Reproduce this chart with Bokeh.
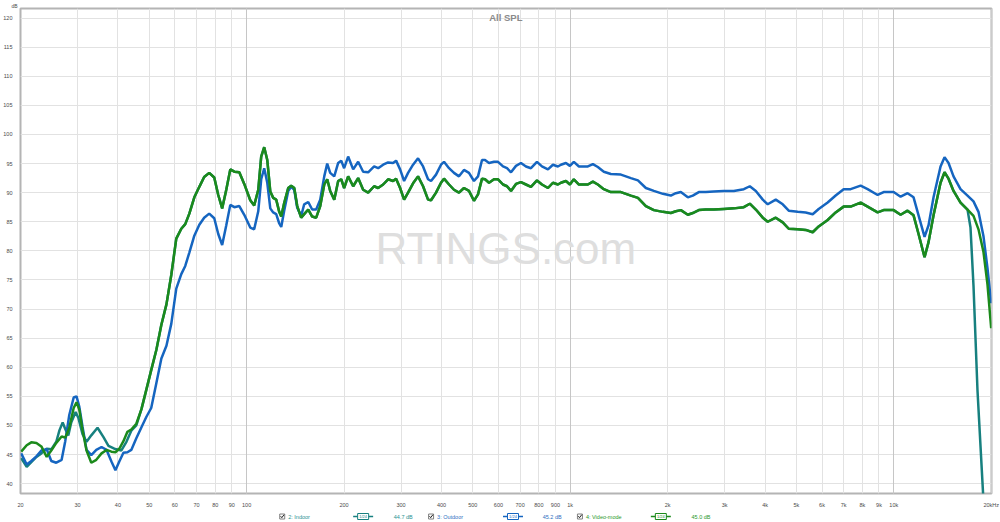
from bokeh.plotting import figure
from bokeh.models import FixedTicker, Range1d, Label, Grid
from bokeh.layouts import column
from bokeh.embed import file_html
from bokeh.resources import INLINE
from bokeh.core.properties import value

# ---------------- data ----------------
freq = [20.1, 20.9, 21.6, 22.4, 23.2, 24.1, 24.9, 25.8, 26.8, 27.5,
        28.3, 29.2, 29.8, 30.4, 31.1, 32.0, 33.1, 34.3, 35.6, 36.9,
        38.2, 39.3, 40.4, 41.6, 42.8, 44.0, 45.6, 47.3, 49.0, 50.7,
        52.6, 54.5, 56.5, 58.5, 60.6, 62.8, 64.6, 66.5, 68.9, 71.4,
        73.9, 76.6, 79.4, 81.7, 84.0, 86.5, 89.0, 91.6, 94.9, 98.3,
        102.6, 105.5, 108.6, 110.9, 113.3, 115.8, 118.3, 120.8, 123.4, 126.1,
        127.9, 130.6, 134.4, 137.3, 140.3, 143.3, 147.4, 150.6, 155.0, 159.4,
        164.0, 168.8, 173.7, 177.4, 181.2, 186.5, 191.8, 196.0, 200.1, 205.9,
        213.4, 221.1, 229.1, 237.4, 247.7, 254.9, 264.1, 273.6, 283.5, 289.6,
        298.0, 306.6, 315.4, 326.8, 338.6, 350.9, 363.6, 371.4, 384.8, 398.7,
        407.3, 422.1, 437.3, 453.1, 469.5, 486.5, 504.1, 518.8, 533.8, 545.3,
        561.1, 581.4, 598.2, 619.8, 637.7, 656.1, 679.8, 704.3, 729.8, 756.2,
        789.2, 817.7, 853.4, 884.2, 916.2, 935.9, 969.8, 997.7, 1026, 1064,
        1134, 1175, 1217, 1270, 1335, 1434, 1540, 1619, 1713, 1813,
        1934, 2046, 2120, 2197, 2309, 2392, 2497, 2624, 2778, 2983,
        3203, 3439, 3589, 3746, 3936, 4078, 4317, 4537, 4735, 5047,
        5342, 5615, 5860, 6246, 6612, 6999, 7356, 7898, 8301, 8913,
        9301, 9988, 10496, 11030, 11510, 11927, 12447, 12806, 13269, 13947,
        14349, 14763, 15297, 16077, 16897, 17633, 18271, 18932, 19480, 20000]

outdoor_db = [45.2, 43.3, 43.9, 44.7, 45.7, 45.9, 43.9, 43.6, 44.1, 47.3,
              51.8, 54.8, 55.0, 53.2, 49.8, 45.8, 44.9, 45.8, 46.3, 45.8,
              43.8, 42.3, 43.8, 45.3, 45.4, 45.8, 47.8, 49.7, 51.5, 53.0,
              57.3, 61.5, 63.7, 67.5, 73.5, 76.0, 77.4, 79.7, 82.6, 84.5,
              85.7, 86.4, 85.6, 82.9, 81.0, 84.4, 87.9, 87.5, 87.7, 86.2,
              84.0, 83.7, 86.8, 92.3, 94.2, 91.7, 87.3, 86.6, 86.3, 84.7,
              84.1, 86.9, 90.3, 91.0, 90.5, 87.4, 86.0, 88.0, 88.4, 87.1,
              87.1, 88.8, 92.8, 95.0, 93.4, 92.8, 95.1, 95.5, 94.2, 96.2,
              94.0, 95.3, 93.6, 93.5, 94.5, 94.2, 94.8, 95.2, 95.1, 95.5,
              94.0, 92.0, 93.4, 94.8, 95.9, 94.5, 92.3, 92.0, 93.1, 94.8,
              95.3, 94.2, 93.4, 92.8, 93.9, 93.4, 92.0, 92.8, 95.6, 95.6,
              95.1, 95.3, 95.3, 94.5, 94.2, 93.5, 94.6, 95.1, 94.5, 94.2,
              95.3, 94.5, 94.0, 94.8, 94.5, 94.8, 95.1, 94.6, 95.3, 94.5,
              94.5, 94.9, 94.4, 93.6, 93.2, 93.1, 92.5, 92.1, 90.8, 90.3,
              89.8, 89.5, 89.9, 90.1, 89.2, 89.5, 90.1, 90.1, 90.2, 90.3,
              90.3, 90.6, 91.1, 90.3, 88.8, 88.0, 88.8, 88.0, 86.9, 86.7,
              86.6, 86.3, 87.2, 88.3, 89.5, 90.6, 90.6, 91.2, 90.6, 89.6,
              90.1, 90.1, 89.3, 89.9, 89.2, 86.1, 82.4, 84.4, 89.2, 94.5,
              96.1, 95.1, 92.8, 90.6, 89.5, 88.5, 86.7, 82.5, 77.0, 71.0]

video_db = [45.5, 46.6, 47.1, 47.0, 46.4, 44.6, 45.7, 47.0, 48.1, 47.9,
            49.6, 53.0, 54.0, 52.7, 49.2, 45.7, 43.6, 44.1, 45.2, 45.8,
            45.5, 45.4, 46.0, 47.3, 48.9, 49.3, 50.3, 52.8, 56.2, 59.5,
            63.0, 67.3, 70.8, 75.9, 82.1, 83.8, 84.6, 86.4, 89.2, 91.0,
            92.7, 93.4, 92.6, 89.6, 87.3, 90.5, 94.0, 93.6, 93.5, 91.5,
            88.7, 87.8, 90.5, 96.2, 97.8, 95.6, 90.2, 89.1, 88.8, 86.7,
            85.9, 88.2, 90.8, 91.2, 90.8, 87.7, 85.7, 86.3, 87.1, 85.9,
            85.7, 87.7, 91.4, 92.3, 90.3, 88.8, 92.0, 92.3, 90.8, 92.8,
            91.1, 92.5, 90.5, 90.0, 91.1, 90.8, 91.4, 92.3, 92.0, 92.4,
            90.8, 88.8, 90.0, 91.6, 92.8, 91.1, 88.8, 88.7, 90.0, 91.7,
            92.4, 91.4, 90.5, 90.0, 90.8, 90.3, 88.6, 89.7, 92.4, 92.3,
            91.7, 92.3, 92.3, 91.4, 91.1, 90.3, 91.5, 91.8, 91.4, 91.0,
            92.1, 91.4, 90.8, 91.7, 91.4, 91.7, 92.0, 91.4, 92.3, 91.4,
            91.4, 91.9, 91.4, 90.6, 90.1, 90.1, 89.5, 89.1, 87.7, 87.0,
            86.7, 86.5, 86.8, 87.0, 86.2, 86.5, 87.0, 87.1, 87.1, 87.2,
            87.3, 87.5, 88.1, 87.1, 85.7, 85.0, 85.7, 84.9, 83.8, 83.7,
            83.6, 83.2, 84.2, 85.3, 86.6, 87.6, 87.6, 88.3, 87.6, 86.6,
            87.0, 87.0, 86.2, 86.9, 86.1, 82.9, 78.9, 81.5, 86.1, 91.7,
            93.5, 92.4, 90.3, 88.3, 87.1, 86.0, 83.7, 79.8, 74.2, 66.7]

# Indoor: own low-frequency part, then it runs under Video-mode, then falls off at the top end
indoor_low_freq = [20.1, 20.9, 21.6, 22.4, 23.2, 24.1, 24.9, 25.8, 26.4, 27.0,
                   27.5, 28.1, 28.7, 29.6, 30.2, 31.1, 32.0, 33.1, 34.6, 36.1,
                   37.4, 39.0, 41.0, 42.5, 44.0, 45.6]
indoor_low_db = [44.4, 42.9, 43.7, 44.6, 45.2, 46.0, 45.9, 47.2, 49.2, 50.5,
                 49.4, 48.3, 50.5, 52.3, 51.3, 48.5, 47.2, 48.3, 49.6, 48.0,
                 46.5, 46.0, 45.7, 47.2, 49.1, 50.0]
indoor_tail_freq = [17261, 17633, 18142, 18932, 20000]
indoor_tail_db = [84.0, 74.0, 56.0, 37.0, 15.0]

x_ticks = [20, 30, 40, 50, 60, 70, 80, 90, 100, 200, 300, 400, 500, 600, 700, 800, 900,
           1000, 2000, 3000, 4000, 5000, 6000, 7000, 8000, 9000, 10000, 20000]
x_tick_labels = ["20", "30", "40", "50", "60", "70", "80", "90", "100", "200", "300", "400",
                 "500", "600", "700", "800", "900", "1k", "2k", "3k", "4k", "5k", "6k", "7k",
                 "8k", "9k", "10k", "20kHz"]
decade_ticks = [100, 1000, 10000]
y_ticks = [40, 45, 50, 55, 60, 65, 70, 75, 80, 85, 90, 95, 100, 105, 110, 115, 120]

series_names = ["2: Indoor", "3: Outdoor", "4: Video-mode"]
series_levels = ["44.7 dB", "45.2 dB", "45.0 dB"]
series_smoothing = ["1/24", "1/24", "1/24"]
series_colors = ["#17807f", "#1565c0", "#1b8a1b"]
legend_text_colors = ["#2a9191", "#2f6fbf", "#2a982a"]

i0 = next(i for i, f in enumerate(freq) if f >= 47.0)
i1 = next(i for i, f in enumerate(freq) if f >= 16800)
indoor_freq = indoor_low_freq + freq[i0:i1 + 1] + indoor_tail_freq
indoor_db = indoor_low_db + video_db[i0:i1 + 1] + indoor_tail_db

FONT = "Liberation Sans"
TICK_COLOR = "#4a4a4a"
W = 1000
H_MAIN = 510
H_LEG = 12
FRAME_L, FRAME_R = 19, 991

# ---------------- main plot ----------------
p = figure(width=W, height=H_MAIN, x_axis_type="log",
           x_range=Range1d(20, 20043), y_range=Range1d(38.31, 121.64),
           toolbar_location=None, output_backend="svg", title="dB",
           min_border_left=FRAME_L, min_border_right=W - FRAME_R,
           min_border_top=6, min_border_bottom=11)
p.background_fill_color = "white"
p.border_fill_color = "white"
p.outline_line_color = "#b4b4b4"
p.outline_line_width = 2
p.title.align = "left"
p.title.offset = -9
p.title.standoff = 0
p.title.text_font = FONT
p.title.text_font_size = "5px"
p.title.text_font_style = "normal"
p.title.text_color = TICK_COLOR

xa = p.xaxis[0]
xa.ticker = FixedTicker(ticks=x_ticks)
xa.major_label_overrides = {t: l for t, l in zip(x_ticks, x_tick_labels)}
ya = p.yaxis[0]
ya.ticker = FixedTicker(ticks=y_ticks)
for ax in (xa, ya):
    ax.axis_line_color = None
    ax.major_tick_line_color = None
    ax.minor_tick_line_color = None
    ax.major_label_text_font = FONT
    ax.major_label_text_font_size = "5.5px"
    ax.major_label_text_color = TICK_COLOR
xa.major_label_standoff = 2
ya.major_label_standoff = 2

p.xgrid.grid_line_color = "#e2e2e2"
p.ygrid.grid_line_color = "#e2e2e2"
p.add_layout(Grid(dimension=0, ticker=FixedTicker(ticks=decade_ticks),
                  grid_line_color="#c6c6c6", grid_line_width=1))

p.add_layout(Label(x=632.5, y=80.4, text="RTINGS.com", text_align="center",
                   text_baseline="middle", text_font=FONT, text_font_size="44px",
                   text_color="#dedede", level="underlay"))

p.line(indoor_freq, indoor_db, line_color=series_colors[0], line_width=2.5)
p.line(freq, outdoor_db, line_color=series_colors[1], line_width=2.5)
p.line(freq, video_db, line_color=series_colors[2], line_width=2.5)

p.add_layout(Label(x=632.5, y=120.1, text="All SPL", text_align="center",
                   text_baseline="middle", text_font=FONT, text_font_size="9.5px",
                   text_font_style="bold", text_color="#8a8a8a"))

# ---------------- legend row (page pixel positions; its frame lines up with the plot frame) ----
leg = figure(width=W, height=H_LEG, x_range=Range1d(FRAME_L, FRAME_R), y_range=Range1d(0, H_LEG),
             toolbar_location=None, output_backend="svg",
             min_border_left=FRAME_L, min_border_right=W - FRAME_R,
             min_border_top=0, min_border_bottom=0,
             x_axis_location=None, y_axis_location=None)
leg.grid.visible = False
leg.outline_line_color = None
leg.background_fill_color = "white"
leg.border_fill_color = "white"

box_x = [281, 430, 579]
name_x = [287, 436, 585]
icon_x = [362, 512, 660]
level_x = [392.7, 541.7, 690.7]
yc = 6
for k in range(3):
    c = series_colors[k]
    tc = legend_text_colors[k]
    leg.rect(x=[box_x[k]], y=[yc], width=5, height=5, fill_color="white",
             line_color="#808080", line_width=1)
    leg.line(x=[box_x[k] - 1.6, box_x[k] - 0.4, box_x[k] + 1.8],
             y=[yc + 0.3, yc - 1.2, yc + 1.8], line_color="#222222", line_width=1)
    leg.text(x=[name_x[k]], y=[yc], text=[series_names[k]], text_align="left",
             text_baseline="middle", text_font=value(FONT), text_font_size="5.5px",
             text_color=tc)
    leg.line(x=[icon_x[k] - 10, icon_x[k] + 10], y=[yc, yc], line_color=c, line_width=1.5)
    leg.rect(x=[icon_x[k]], y=[yc], width=11, height=6, fill_color="white",
             line_color=c, line_width=1)
    leg.text(x=[icon_x[k]], y=[yc], text=[series_smoothing[k]], text_align="center",
             text_baseline="middle", text_font=value(FONT), text_font_size="4px",
             text_color=c)
    leg.text(x=[level_x[k]], y=[yc], text=[series_levels[k]], text_align="left",
             text_baseline="middle", text_font=value(FONT), text_font_size="5.5px",
             text_color=tc)

layout = column(p, leg)
open("out.html", "w").write(file_html(layout, INLINE))
